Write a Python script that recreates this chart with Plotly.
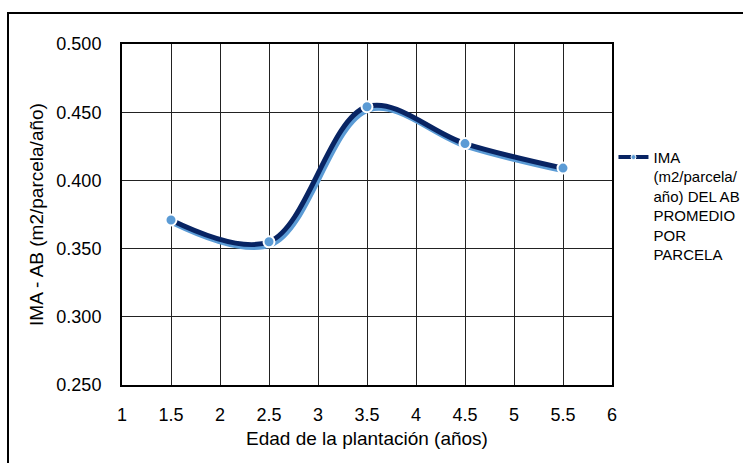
import plotly.graph_objects as go

# Data
edad = [1.5, 2.5, 3.5, 4.5, 5.5]
ima = [0.371, 0.355, 0.454, 0.427, 0.409]
x_ticks = [1, 1.5, 2, 2.5, 3, 3.5, 4, 4.5, 5, 5.5, 6]
x_tick_labels = ["1", "1.5", "2", "2.5", "3", "3.5", "4", "4.5", "5", "5.5", "6"]
y_ticks = [0.25, 0.30, 0.35, 0.40, 0.45, 0.50]
y_tick_labels = ["0.250", "0.300", "0.350", "0.400", "0.450", "0.500"]
series_name = "IMA<br>(m2/parcela/<br>año) DEL AB<br>PROMEDIO<br>POR<br>PARCELA"

W, H = 743, 463
L, R, T, B = 122, 131, 44, 78
x_range = [1, 6]
y_range = [0.25, 0.50]
plot_w = W - L - R
plot_h = H - T - B
# shadow offset (px) converted through the axis scales
dx = 2 * (x_range[1] - x_range[0]) / plot_w
dy = 3 * (y_range[1] - y_range[0]) / plot_h

dark = "#082463"
light = "#5B9BD5"

fig = go.Figure()
fig.add_trace(go.Scatter(
    x=[v + dx for v in edad], y=[v - dy for v in ima],
    mode="lines", line=dict(color=light, width=5, shape="spline", smoothing=1.0),
    showlegend=False, hoverinfo="skip"))
fig.add_trace(go.Scatter(
    x=edad, y=ima, mode="lines+markers", name=series_name, showlegend=False,
    line=dict(color=dark, width=5, shape="spline", smoothing=1.0),
    marker=dict(size=11, color=light, line=dict(color="white", width=2))))
# legend-only entry (small marker, as in the reference legend)
fig.add_trace(go.Scatter(
    x=[None], y=[None], mode="lines+markers", name=series_name,
    line=dict(color=dark, width=4),
    marker=dict(size=5, color=light, line=dict(color="white", width=1))))

fig.update_layout(
    width=W, height=H,
    margin=dict(l=L, r=R, t=T, b=B, autoexpand=False),
    paper_bgcolor="white", plot_bgcolor="white",
    font=dict(family="Liberation Sans, Arial, sans-serif", color="#000000"),
    showlegend=True,
    legend=dict(x=1.003, y=0.716, xanchor="left", yanchor="top",
                font=dict(size=15, color="#000000"), valign="top",
                bgcolor="rgba(0,0,0,0)", tracegroupgap=0),
    xaxis=dict(range=x_range, tickvals=x_ticks, ticktext=x_tick_labels,
               showgrid=True, gridcolor="#222222", gridwidth=1,
               showline=True, linecolor="black", linewidth=2, mirror=True,
               zeroline=False, ticks="", tickfont=dict(size=18), ticklabelstandoff=12,
               title=dict(text="Edad de la plantación (años)", font=dict(size=19), standoff=8)),
    yaxis=dict(range=y_range, tickvals=y_ticks, ticktext=y_tick_labels,
               showgrid=True, gridcolor="#222222", gridwidth=1,
               showline=True, linecolor="black", linewidth=2, mirror=True,
               zeroline=False, ticks="", tickfont=dict(size=18), ticklabelstandoff=15,
               title=dict(text="IMA - AB (m2/parcela/año)", font=dict(size=19), standoff=8)),
    shapes=[dict(type="rect", xref="paper", yref="paper",
                 x0=(8 - L) / plot_w, x1=1.5,
                 y0=-0.4, y1=(H - B - 13) / plot_h,
                 line=dict(color="black", width=2), fillcolor="rgba(0,0,0,0)",
                 layer="below")],
)

fig.write_html("out.html")
